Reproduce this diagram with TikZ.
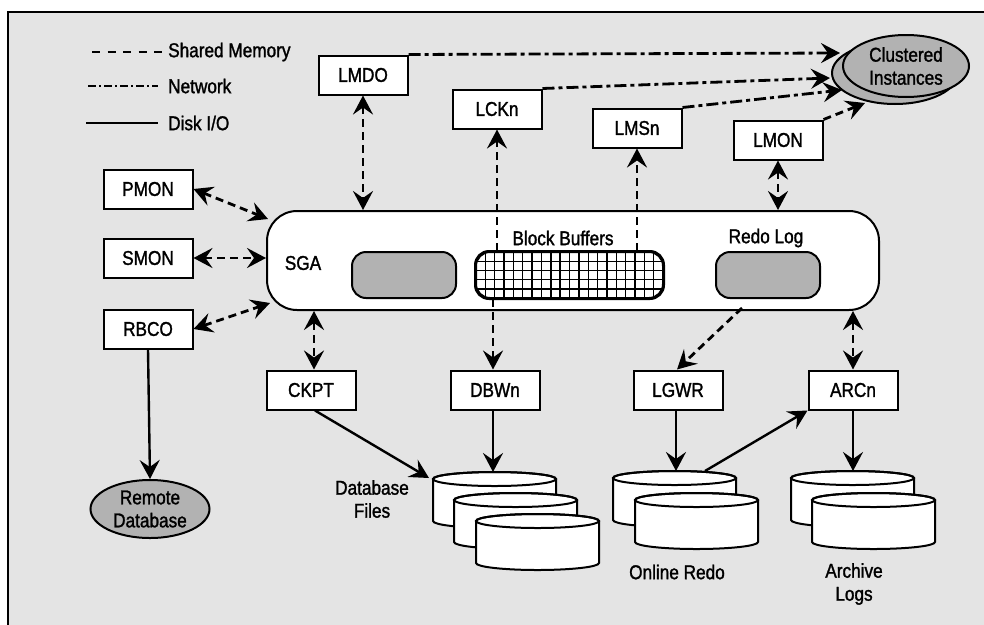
\documentclass[tikz,border=0pt]{standalone}
\usepackage{fontspec}
\setmainfont[FakeStretch=0.86,FakeBold=1.4]{Liberation Sans}
\usetikzlibrary{arrows.meta,shapes.geometric}
\definecolor{bg}{gray}{0.894}
\definecolor{shade}{gray}{0.70}
\newcommand\dbcyl[2]{%
  \filldraw[fill=white,line width=2pt] (#1,#2) -- (#1,#2+42) arc[start angle=180,end angle=360,x radius=61.5pt,y radius=7pt] -- (#1+123,#2) arc[start angle=0,end angle=180,x radius=61.5pt,y radius=7pt] -- cycle;
  \draw[line width=2pt] (#1+61.5,#2) ellipse[x radius=61.5pt,y radius=7pt];}
\begin{document}
\begin{tikzpicture}[x=1pt,y=-1pt,
  proc/.style={draw,line width=2pt,fill=white,minimum width=89pt,minimum height=39pt,inner sep=0pt,font=\fontsize{20}{22}\selectfont},
  lbl/.style={font=\fontsize{20}{23}\selectfont,inner sep=0pt,align=center},
  tip/.style={-{Stealth[length=19pt,width=20pt,inset=7pt]}},
  dtip/.style={{Stealth[length=19pt,width=20pt,inset=7pt]}-{Stealth[length=19pt,width=20pt,inset=7pt]}},
  shm/.style={line width=2.8pt,dash pattern=on 8pt off 5pt},
  net/.style={line width=2.8pt,dash pattern=on 12pt off 4pt on 4pt off 4pt},
  disk/.style={line width=2.4pt},
  blob/.style={draw,line width=2pt,fill=shade,rounded corners=14pt,minimum width=104pt,minimum height=46pt,inner sep=0pt},
  oval/.style={ellipse,draw,line width=2pt,fill=shade,inner sep=0pt,align=center,font=\fontsize{20}{23}\selectfont},
]
\useasboundingbox (0,0) rectangle (984,624);
\fill[bg] (8,12) rectangle (990,630);
\draw[line width=2pt] (8,630) -- (8,12) -- (990,12);

% legend
\coordinate (lg1a) at (92,52); \coordinate (lg1b) at (162,52);
\coordinate (lg2a) at (88,86); \coordinate (lg2b) at (158,86);
\coordinate (lg3a) at (86,123); \coordinate (lg3b) at (158,123);
\draw[line width=2.4pt,dash pattern=on 8pt off 7.5pt] (lg1a) -- (lg1b);
\draw[line width=2.4pt,dash pattern=on 8pt off 3pt on 2pt off 3pt] (lg2a) -- (lg2b);
\draw[line width=2.4pt] (lg3a) -- (lg3b);
\node[lbl,anchor=west] (t1) at (168,52) {Shared Memory};
\node[lbl,anchor=west] (t2) at (168,86) {Network};
\node[lbl,anchor=west] (t3) at (168,123) {Disk I/O};

% SGA
\node[draw,line width=2pt,fill=white,rounded corners=30pt,minimum width=612pt,minimum height=99pt,inner sep=0pt] (sga) at (573,260.5) {};
\node[lbl] (sgat) at (303,263) {SGA};
\node[blob] (pool) at (404,275) {};
\node[blob] (redo) at (768,275) {};
\node[draw,line width=2pt,fill=white,rounded corners=14pt,minimum width=187pt,minimum height=46pt,inner sep=0pt] (buf) at (569.5,275) {};
\begin{scope}
  \clip[rounded corners=14pt] (buf.south west) rectangle (buf.north east);
  \foreach \i in {1,...,19} \draw[line width=1.4pt] (476+\i*9.35,250) -- ++(0,50);
  \foreach \j in {1,...,4} \draw[line width=1.4pt] (474,252+\j*9.2) -- ++(191,0);
\end{scope}
\draw[line width=2pt,rounded corners=14pt] (buf.south west) rectangle (buf.north east);
\node[lbl] (bbt) at (563,238) {Block Buffers};
\node[lbl] (rlt) at (766,238) {Redo Log};

% processes
\node[proc] (lmdo) at (363,75) {LMDO};
\node[proc] (lckn) at (497,109) {LCKn};
\node[proc] (lmsn) at (637,128) {LMSn};
\node[proc] (lmon) at (778,140) {LMON};
\node[proc] (pmon) at (148,189) {PMON};
\node[proc] (smon) at (148,258) {SMON};
\node[proc] (rbco) at (148,329) {RBCO};
\node[proc] (ckpt) at (311,390) {CKPT};
\node[proc] (dbwn) at (495,390) {DBWn};
\node[proc] (lgwr) at (678,390) {LGWR};
\node[proc] (arcn) at (853,390) {ARCn};

% clustered instances
\node[oval,minimum width=126pt,minimum height=62pt] (clb) at (895,73) {};
\node[oval,minimum width=126pt,minimum height=62pt] (clu) at (906,66) {Clustered\\Instances};
\node[oval,minimum width=119pt,minimum height=58pt] (remote) at (150,509) {Remote\\Database};

% disks
\dbcyl{433}{479}\dbcyl{454}{500}\dbcyl{476}{521}
\dbcyl{613}{478}\dbcyl{635}{500}
\dbcyl{791}{478}\dbcyl{812}{500}
\node[lbl] (dbf) at (372,499) {Database\\Files};
\node[lbl] (onr) at (677,572) {Online Redo};
\node[lbl] (arl) at (854,584) {Archive\\Logs};

% free ends
\coordinate (c1) at (840,53);
\coordinate (c2) at (830,78);
\coordinate (c3) at (842,90);
\coordinate (c4) at (865,103);
\coordinate (sgapm) at (268,219);
\coordinate (sgarb) at (270,303);
\coordinate (redoout) at (742,308);
\coordinate (dbtopa) at (429,478);
\coordinate (dbtop) at (495,472);
\coordinate (rdtop) at (676,471);
\coordinate (rdout) at (705,471);
\coordinate (artop) at (853,471);

% shared memory connectors
\draw[shm,dtip] (lmdo.south) -- (lmdo.south |- sga.north);
\draw[shm,tip] (lckn.south |- buf.north) -- (lckn.south);
\draw[shm,tip] (lmsn.south |- buf.north) -- (lmsn.south);
\draw[shm,dtip] (lmon.south) -- (lmon.south |- sga.north);
\draw[shm,tip] ([xshift=-2pt]dbwn.north |- buf.south) -- ([xshift=-2pt]dbwn.north);
\draw[shm,dtip] ([xshift=3pt]ckpt.north |- sga.south) -- ([xshift=3pt]ckpt.north);
\draw[shm,dtip] (arcn.north |- sga.south) -- (arcn.north);
\draw[shm,tip] (redoout) -- ([xshift=-1pt]lgwr.north);
\draw[shm,dtip] (pmon.east) -- (sgapm);
\draw[shm,dtip] (smon.east) -- (smon.east -| sga.west);
\draw[shm,dtip] (rbco.east) -- (sgarb);

% network connectors
\draw[net,tip] (lmdo.north east) -- (c1);
\draw[net,tip] (lckn.north east) -- (c2);
\draw[net,tip] (lmsn.north east) -- (c3);
\draw[shm,tip] (lmon.north east) -- (c4);

% disk I/O
\draw[disk,tip] (rbco.south) -- (remote.north);
\draw[disk,tip] ([xshift=4pt]ckpt.south) -- (dbtopa);
\draw[disk,tip] ([xshift=-2pt]dbwn.south) -- ([xshift=-2pt]dbwn.south |- dbtop);
\draw[disk,tip] ([xshift=-2pt]lgwr.south) -- ([xshift=-2pt]lgwr.south |- rdtop);
\draw[disk,tip] (rdout) -- (arcn.south west);
\draw[disk,tip] (arcn.south) -- (arcn.south |- artop);
\end{tikzpicture}
\end{document}
